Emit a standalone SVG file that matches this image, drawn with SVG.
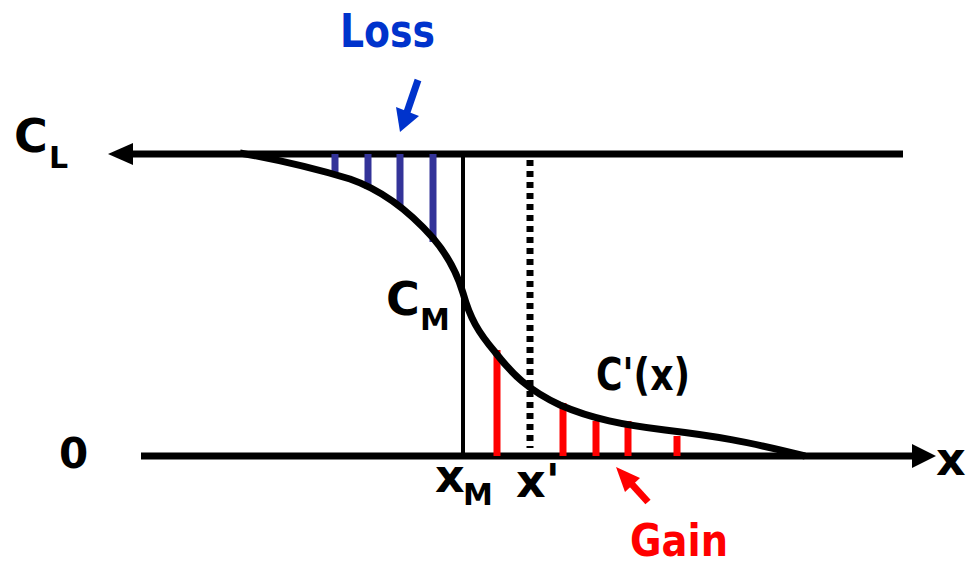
<svg xmlns="http://www.w3.org/2000/svg" width="967" height="568" viewBox="0 0 967 568">
<style>
.t{font-family:"Comic Sans MS","DejaVu Sans","Liberation Sans",sans-serif;font-weight:bold;fill:#000}
.ax{stroke:#000;stroke-width:7;fill:none}
.loss{stroke:#333399;stroke-width:7}
.gain{stroke:#ff0000;stroke-width:7}
</style>
<rect width="967" height="568" fill="#fff"/>
<g id="connectors">
<line class="ax" x1="128" y1="154" x2="903" y2="154"/>
<polygon points="108,154 133,143 133,165" fill="#000"/>
<line class="ax" x1="141" y1="456" x2="915" y2="456"/>
<polygon points="936,456 912,444 912,468" fill="#000"/>
<line x1="463" y1="154" x2="463" y2="456" stroke="#000" stroke-width="4"/>
<line x1="530" y1="160" x2="530" y2="448" stroke="#000" stroke-width="7" stroke-dasharray="6 5"/>
<g id="loss-bars">
<line class="loss" x1="335" y1="154" x2="335" y2="172"/>
<line class="loss" x1="368" y1="154" x2="368" y2="189"/>
<line class="loss" x1="400" y1="154" x2="400" y2="207"/>
<line class="loss" x1="433" y1="154" x2="433" y2="242"/>
</g>
<g id="gain-bars">
<line class="gain" x1="497" y1="350" x2="497" y2="456"/>
<line class="gain" x1="563" y1="403" x2="563" y2="456"/>
<line class="gain" x1="596" y1="421" x2="596" y2="456"/>
<line class="gain" x1="628" y1="421" x2="628" y2="456"/>
<line class="gain" x1="677" y1="436" x2="677" y2="456"/>
</g>
<path class="ax" d="M240,153 C280,160 320,170 350,179 C382,190 410,212 433,238 C450,258 458,276 463,293 C470,318 478,332 495,352 C512,374 528,390 560,405 C592,419 624,425 665,430 C715,436 745,441 805,456"/>
<line x1="418" y1="80" x2="406" y2="115" stroke="#0033cc" stroke-width="7"/>
<polygon points="400,132 396,107 419,116" fill="#0033cc"/>
<line x1="648" y1="502" x2="628" y2="480" stroke="#ff0000" stroke-width="7"/>
<polygon points="616,467 640,478 625,492" fill="#ff0000"/>
</g>
<g id="labels">
<text class="t" x="340" y="47" font-size="46" style="fill:#0033cc" textLength="95" lengthAdjust="spacingAndGlyphs">Loss</text>
<text class="t" x="630" y="556" font-size="45" style="fill:#ff0000" textLength="98" lengthAdjust="spacingAndGlyphs">Gain</text>
<text class="t" x="14" y="152" font-size="46">C</text>
<text class="t" x="49" y="168" font-size="30">L</text>
<text class="t" x="386" y="315" font-size="46">C</text>
<text class="t" x="420" y="330" font-size="30">M</text>
<text class="t" x="596" y="390" font-size="44" textLength="94" lengthAdjust="spacingAndGlyphs">C'(x)</text>
<text class="t" x="59" y="468" font-size="42">0</text>
<text class="t" x="936" y="475" font-size="46">x</text>
<text class="t" x="435" y="492" font-size="46">x</text>
<text class="t" x="463" y="505" font-size="30">M</text>
<text class="t" x="516" y="497" font-size="46">x'</text>
</g>
</svg>
